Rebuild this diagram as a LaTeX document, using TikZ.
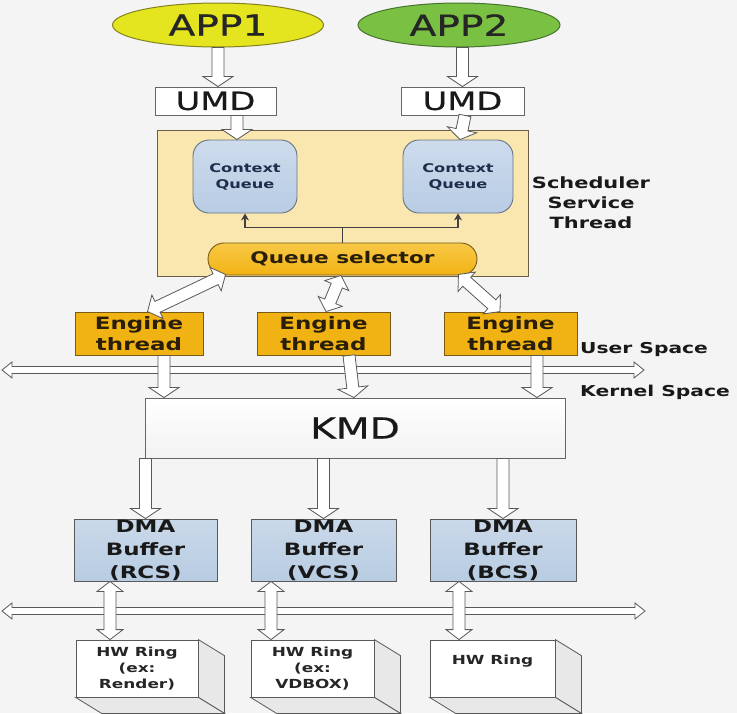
\documentclass[tikz,border=0pt]{standalone}
\usepackage{fontspec}
\setmainfont{DejaVu Sans}[FakeStretch=1.35]
\newfontfamily\heavyfont{DejaVu Sans}[FakeStretch=1.35,FakeBold=0.6]
\usetikzlibrary{calc,shapes.geometric,arrows.meta}
\definecolor{bgc}{RGB}{244,244,244}
\definecolor{appyel}{RGB}{228,229,30}
\definecolor{appyelb}{RGB}{130,130,30}
\definecolor{appgrn}{RGB}{122,192,66}
\definecolor{appgrnb}{RGB}{70,115,45}
\definecolor{schedc}{RGB}{250,231,176}
\definecolor{schedb}{RGB}{105,95,70}
\definecolor{cqc}{RGB}{184,204,228}
\definecolor{cqb}{RGB}{100,115,130}
\definecolor{orng}{RGB}{241,179,20}
\definecolor{orngl}{RGB}{248,200,70}
\definecolor{orngb}{RGB}{120,90,20}
\definecolor{dmac}{RGB}{184,204,226}
\definecolor{txtdark}{RGB}{40,30,10}
\definecolor{navy}{RGB}{30,45,75}
\newcommand\HAset[3]{\def\HAw{#1}\def\HAh{#2}\def\HAl{#3}}
\newcommand\HA[2]{%
  \coordinate (hab) at ($(#2)!\HAl!(#1)$);
  \draw[hollow] ($(#1)!\HAw!90:(#2)$) -- ($(hab)!\HAw!90:(#2)$) -- ($(hab)!\HAh!90:(#2)$) -- (#2) -- ($(hab)!\HAh!-90:(#2)$) -- ($(hab)!\HAw!-90:(#2)$) -- ($(#1)!\HAw!-90:(#2)$) -- cycle;}
\newcommand\HAA[2]{%
  \coordinate (hab) at ($(#2)!\HAl!(#1)$);
  \coordinate (haa) at ($(#1)!\HAl!(#2)$);
  \draw[hollow] (#1) -- ($(haa)!\HAh!90:(#2)$) -- ($(haa)!\HAw!90:(#2)$) -- ($(hab)!\HAw!90:(#2)$) -- ($(hab)!\HAh!90:(#2)$) -- (#2) -- ($(hab)!\HAh!-90:(#2)$) -- ($(hab)!\HAw!-90:(#2)$) -- ($(haa)!\HAw!-90:(#2)$) -- ($(haa)!\HAh!-90:(#2)$) -- cycle;}
\begin{document}
\begin{tikzpicture}[x=1pt,y=-1pt,
  hollow/.style={fill=white, draw=black!65, line width=0.8pt, line join=miter},
  app/.style={ellipse, line width=1pt, inner sep=0pt, minimum height=44pt, font=\heavyfont\fontsize{29}{32}\selectfont},
  umdbox/.style={rectangle, draw=black!60, fill=white, line width=0.9pt, inner sep=0pt, minimum height=28pt, font=\heavyfont\fontsize{25}{28}\selectfont, text=black!90},
  schedbox/.style={rectangle, draw=schedb, fill=schedc, line width=1pt, minimum width=371pt, minimum height=146pt},
  cq/.style={rectangle, rounded corners=16pt, draw=cqb, line width=0.9pt, top color=cqc!70!white, bottom color=cqc, minimum height=73pt, inner sep=0pt, align=center, text=navy, font=\bfseries\fontsize{12}{16}\selectfont},
  qsel/.style={rectangle, rounded corners=16pt, draw=orngb, line width=0.9pt, top color=orngl, bottom color=orng, minimum width=269pt, minimum height=32pt, inner sep=0pt, text=txtdark, font=\bfseries\fontsize{16}{19}\selectfont},
  eng/.style={rectangle, draw=orngb, fill=orng, line width=0.9pt, minimum height=43pt, inner sep=0pt, align=center, text=txtdark, font=\bfseries\fontsize{17}{21}\selectfont},
  lbl/.style={inner sep=0pt, align=center, text=black!90, font=\bfseries\fontsize{15.5}{20}\selectfont},
  kmdbox/.style={rectangle, draw=black!60, top color=white, bottom color=gray!10, line width=0.9pt, minimum width=420pt, minimum height=60pt, inner sep=0pt, font=\heavyfont\fontsize{29}{32}\selectfont, text=black!90},
  dma/.style={rectangle, draw=black!65, top color=dmac!75!white, bottom color=dmac, line width=0.9pt, minimum height=62pt, inner sep=0pt, align=center, text=black!90, font=\bfseries\fontsize{17}{23}\selectfont},
  hwbox/.style={rectangle, draw=black!65, fill=white, line width=0.8pt, minimum height=57pt, inner sep=0pt, align=center, text=black!85, font=\bfseries\fontsize{12.5}{16}\selectfont},
  hwside/.style={draw=black!65, fill=gray!18, line width=0.8pt, line join=miter},
  ctl/.style={draw=black!75, line width=1.1pt}
]
\fill[bgc] (0,0) rectangle (737,713);
\useasboundingbox (0,0) rectangle (737,713);

% applications and UMD
\node[app, fill=appyel, draw=appyelb, minimum width=211pt, text=black!85] (app1) at (218,25) {APP1};
\node[app, fill=appgrn, draw=appgrnb, minimum width=202pt, text=black!85] (app2) at (459,25) {APP2};
\node[umdbox, minimum width=121pt] (umd1) at (215.5,101) {UMD};
\node[umdbox, minimum width=123pt] (umd2) at (462.5,101) {UMD};

% scheduler
\node[schedbox] (sch) at (342.5,203) {};
\node[cq, minimum width=104pt] (cq1) at (245,176.5) {Context\\Queue};
\node[cq, minimum width=110pt] (cq2) at (458,176.5) {Context\\Queue};
\node[qsel] (qs) at (342.5,259) {Queue selector};
\node[lbl] (schtxt) at (591,203) {Scheduler\\Service\\Thread};
\coordinate (jn) at ($(qs.north)+(0,-15)$);
\draw[ctl] (qs.north) -- (jn);
\draw[ctl,-{Stealth[length=7pt,width=8pt]}] (jn) -| (cq1.south);
\draw[ctl,-{Stealth[length=7pt,width=8pt]}] (jn) -| (cq2.south);

% engines
\node[eng, minimum width=128pt] (e1) at (139,333.5) {Engine\\thread};
\node[eng, minimum width=133pt] (e2) at (323.5,333.5) {Engine\\thread};
\node[eng, minimum width=133pt] (e3) at (510.5,333.5) {Engine\\thread};
\node[lbl, anchor=west, font=\bfseries\fontsize{15}{18}\selectfont] (us) at (580,349) {User Space};
\node[lbl, anchor=west, font=\bfseries\fontsize{15}{18}\selectfont] (ks) at (580,392) {Kernel Space};

% KMD and DMA
\node[kmdbox] (kmd) at (355,428) {KMD};
\node[dma, minimum width=143pt] (d1) at (145.5,550) {DMA\\Buffer\\(RCS)};
\node[dma, minimum width=145pt] (d2) at (323.5,550) {DMA\\Buffer\\(VCS)};
\node[dma, minimum width=146pt] (d3) at (503,550) {DMA\\Buffer\\(BCS)};

% HW rings
\node[hwbox, minimum width=122pt] (hw1) at (137,668.5) {HW Ring\\(ex:\\Render)};
\node[hwbox, minimum width=123pt] (hw2) at (312.5,668.5) {HW Ring\\(ex:\\VDBOX)};
\node[hwbox, minimum width=125pt] (hw3) at (492.5,668.5) {};
\node[hwbox, draw=none, fill=none, minimum height=0pt, minimum width=0pt] (hw3t) at ($(hw3.north)+(0,21)$) {HW Ring};
\foreach \h in {hw1,hw2,hw3}{
  \draw[hwside] (\h.north east) -- ($(\h.north east)+(26,16)$) -- ($(\h.south east)+(26,16)$) -- (\h.south east) -- cycle;
  \draw[hwside] (\h.south west) -- (\h.south east) -- ($(\h.south east)+(26,16)$) -- ($(\h.south west)+(26,16)$) -- cycle;
}

% user / kernel boundaries
\coordinate (ubl) at (2,370);
\coordinate (ubr) at (644,370);
\coordinate (lbl) at (2,611);
\coordinate (lbr) at (645,611);
\HAset{3.5pt}{8pt}{10pt}
\HAA{ubl}{ubr}
\HAA{lbl}{lbr}

% hollow arrows
\HAset{6pt}{15pt}{10pt}
\coordinate (a1) at (app1.south);
\coordinate (a1e) at (app1.south |- umd1.north);
\HA{a1}{a1e}
\coordinate (a2e) at (umd2.north);
\coordinate (a2) at (umd2.north |- app2.south);
\HA{a2}{a2e}
\coordinate (u1) at ($(umd1.south)+(21.5,0)$);
\coordinate (u1e) at (u1 |- cq1.north);
\HA{u1}{u1e}
\coordinate (u2) at ($(umd2.south)+(2.5,0)$);
\coordinate (u2e) at ($(cq2.north)+(2,0)$);
\HA{u2}{u2e}

\HAset{6pt}{13pt}{11pt}
\coordinate (q1) at ($(qs.south west)+(18,-1)$);
\coordinate (q1e) at ($(e1.north west)+(73,0)$);
\HAA{q1}{q1e}
\coordinate (q2) at ($(qs.south)+(-1.5,0)$);
\coordinate (q2e) at ($(e2.north)+(2.5,0)$);
\HAA{q2}{q2e}
\coordinate (q3) at ($(qs.south east)+(-19,-1)$);
\coordinate (q3e) at ($(e3.north)+(-10.5,0)$);
\HAA{q3}{q3e}

\HAset{6pt}{15pt}{10pt}
\coordinate (k1) at ($(e1.south)+(25,0)$);
\coordinate (k1e) at (k1 |- kmd.north);
\HA{k1}{k1e}
\coordinate (k2) at ($(e2.south)+(25.5,0)$);
\coordinate (k2e) at ($(kmd.north)+(-1,0)$);
\HA{k2}{k2e}
\coordinate (k3) at ($(e3.south)+(26.5,0)$);
\coordinate (k3e) at (k3 |- kmd.north);
\HA{k3}{k3e}

\coordinate (m1e) at (d1.north);
\coordinate (m1) at (d1.north |- kmd.south);
\HA{m1}{m1e}
\coordinate (m2e) at (d2.north);
\coordinate (m2) at (d2.north |- kmd.south);
\HA{m2}{m2e}
\coordinate (m3e) at (d3.north);
\coordinate (m3) at (d3.north |- kmd.south);
\HA{m3}{m3e}

\HAset{6pt}{13pt}{10pt}
\coordinate (h1) at ($(d1.south)+(-35.5,0)$);
\coordinate (h1e) at (h1 |- hw1.north);
\HAA{h1}{h1e}
\coordinate (h2) at ($(d2.south)+(-52.5,0)$);
\coordinate (h2e) at (h2 |- hw2.north);
\HAA{h2}{h2e}
\coordinate (h3) at ($(d3.south)+(-44,0)$);
\coordinate (h3e) at (h3 |- hw3.north);
\HAA{h3}{h3e}
\end{tikzpicture}
\end{document}
